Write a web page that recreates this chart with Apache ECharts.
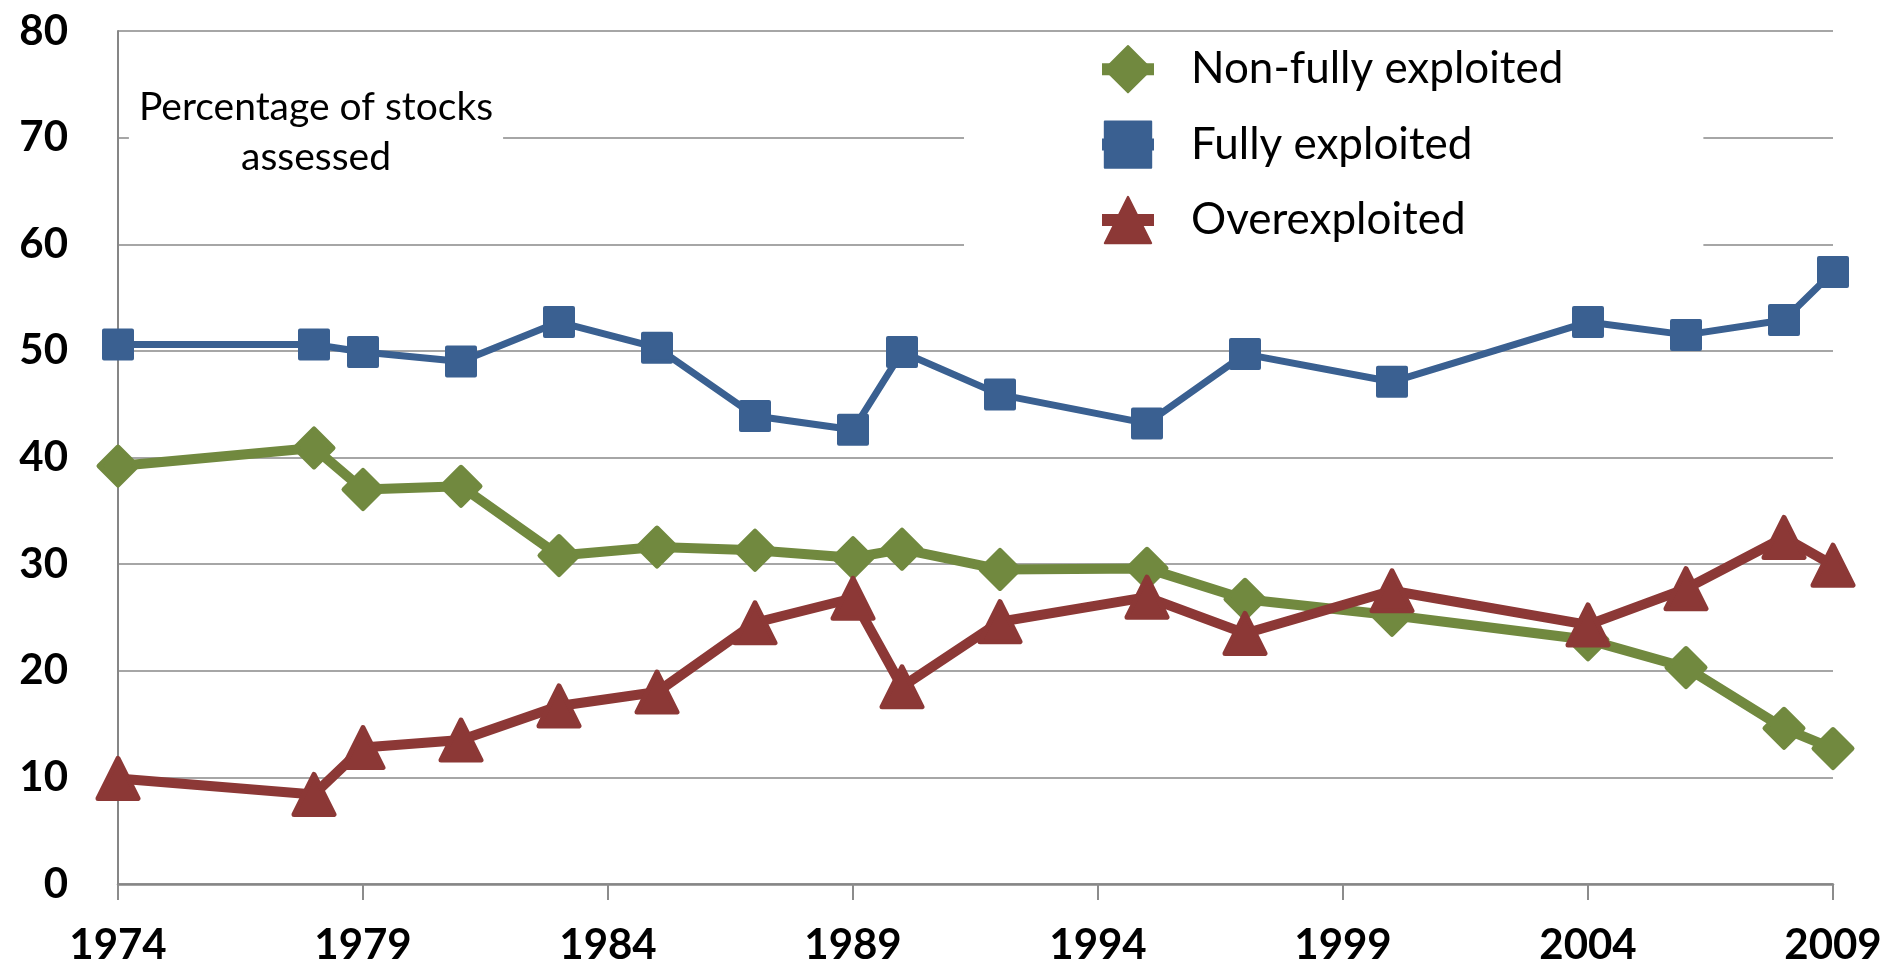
<!DOCTYPE html>
<html>
<head>
<meta charset="utf-8">
<style>
  html, body { margin: 0; padding: 0; background: #fff; }
  #chart { width: 1901px; height: 968px; }
</style>
<script src="https://cdn.jsdelivr.net/npm/echarts@6/dist/echarts.min.js"></script>
</head>
<body>
<div id="chart"></div>
<script>
// survey years and the share of stocks (%) in each state
var years = [1974, 1978, 1979, 1981, 1983, 1985, 1987, 1989, 1990, 1992, 1995, 1997, 2000, 2004, 2006, 2008, 2009];
var nonFully = [39.2, 40.9, 37.0, 37.3, 30.8, 31.6, 31.3, 30.6, 31.4, 29.5, 29.6, 26.7, 25.2, 22.9, 20.3, 14.6, 12.7];
var fully = [50.6, 50.6, 49.9, 49.0, 52.7, 50.3, 43.9, 42.6, 49.9, 45.9, 43.2, 49.7, 47.1, 52.7, 51.5, 52.9, 57.4];
var over = [9.9, 8.4, 12.8, 13.5, 16.7, 18.0, 24.5, 26.8, 18.5, 24.6, 26.9, 23.5, 27.5, 24.3, 27.7, 32.5, 29.9];

var firstYear = 1974, lastYear = 2009;
var yTicks = [0, 80, 10]; // min, max, step

// category axis = every year, series get nulls where there was no survey
var categories = [];
for (var y = firstYear; y <= lastYear; y++) categories.push(String(y));

function toSeries(vals) {
  var out = categories.map(function () { return null; });
  years.forEach(function (yr, i) { out[yr - firstYear] = vals[i]; });
  return out;
}

var FONT = "Lato, 'Open Sans', sans-serif";
var chart = echarts.init(document.getElementById('chart'));

chart.setOption({
  animation: false,
  backgroundColor: '#fff',
  textStyle: { fontFamily: FONT },
  grid: { left: 118, right: 68, top: 31, bottom: 84, containLabel: false },
  title: {
    text: 'Percentage of stocks\nassessed',
    left: 306,
    textAlign: 'center',
    top: 76,
    backgroundColor: '#fff',
    padding: [6, 10, 6, 10],
    textStyle: {
      fontFamily: FONT,
      fontWeight: 'normal',
      fontSize: 39,
      lineHeight: 50,
      color: '#000'
    }
  },
  legend: {
    orient: 'vertical',
    left: 964,
    top: 32,
    padding: [13, 140, 2, 132],
    backgroundColor: '#fff',
    itemWidth: 52,
    itemHeight: 58,
    itemGap: 27,
    lineStyle: { width: 12 },
    textStyle: {
      fontFamily: FONT,
      fontSize: 44,
      color: '#000',
      padding: [0, 0, 0, 32]
    },
    data: ['Non-fully exploited', 'Fully exploited', 'Overexploited']
  },
  xAxis: {
    type: 'category',
    data: categories,
    boundaryGap: false,
    axisLine: { lineStyle: { color: '#868686', width: 2.5 } },
    axisTick: { show: true, interval: 4, length: 16, lineStyle: { color: '#8c8c8c', width: 2 } },
    axisLabel: {
      interval: 4,
      margin: 40,
      fontFamily: FONT,
      fontWeight: 'bold',
      fontSize: 42,
      color: '#000'
    },
    splitLine: { show: false }
  },
  yAxis: {
    type: 'value',
    min: yTicks[0],
    max: yTicks[1],
    interval: yTicks[2],
    axisLine: { show: true, lineStyle: { color: '#868686', width: 2 } },
    axisTick: { show: false },
    axisLabel: {
      margin: 50,
      fontFamily: FONT,
      fontWeight: 'bold',
      fontSize: 42,
      color: '#000'
    },
    splitLine: { lineStyle: { color: '#a6a6a6', width: 2 } }
  },
  series: [
    {
      name: 'Non-fully exploited',
      type: 'line',
      connectNulls: true,
      showAllSymbol: true,
      data: toSeries(nonFully),
      symbol: 'diamond',
      symbolSize: 38,
      lineStyle: { color: '#71893f', width: 10 },
      itemStyle: { color: '#71893f', borderColor: '#71893f', borderWidth: 5, borderJoin: 'round' }
    },
    {
      name: 'Fully exploited',
      type: 'line',
      connectNulls: true,
      showAllSymbol: true,
      data: toSeries(fully),
      symbol: 'rect',
      symbolSize: 28,
      lineStyle: { color: '#3a6091', width: 7 },
      itemStyle: { color: '#3a6091', borderColor: '#3a6091', borderWidth: 4, borderJoin: 'round' }
    },
    {
      name: 'Overexploited',
      type: 'line',
      connectNulls: true,
      showAllSymbol: true,
      data: toSeries(over),
      symbol: 'triangle',
      symbolSize: 40,
      lineStyle: { color: '#8c3836', width: 10 },
      itemStyle: { color: '#8c3836', borderColor: '#8c3836', borderWidth: 5, borderJoin: 'round' }
    }
  ]
});
</script>
</body>
</html>
